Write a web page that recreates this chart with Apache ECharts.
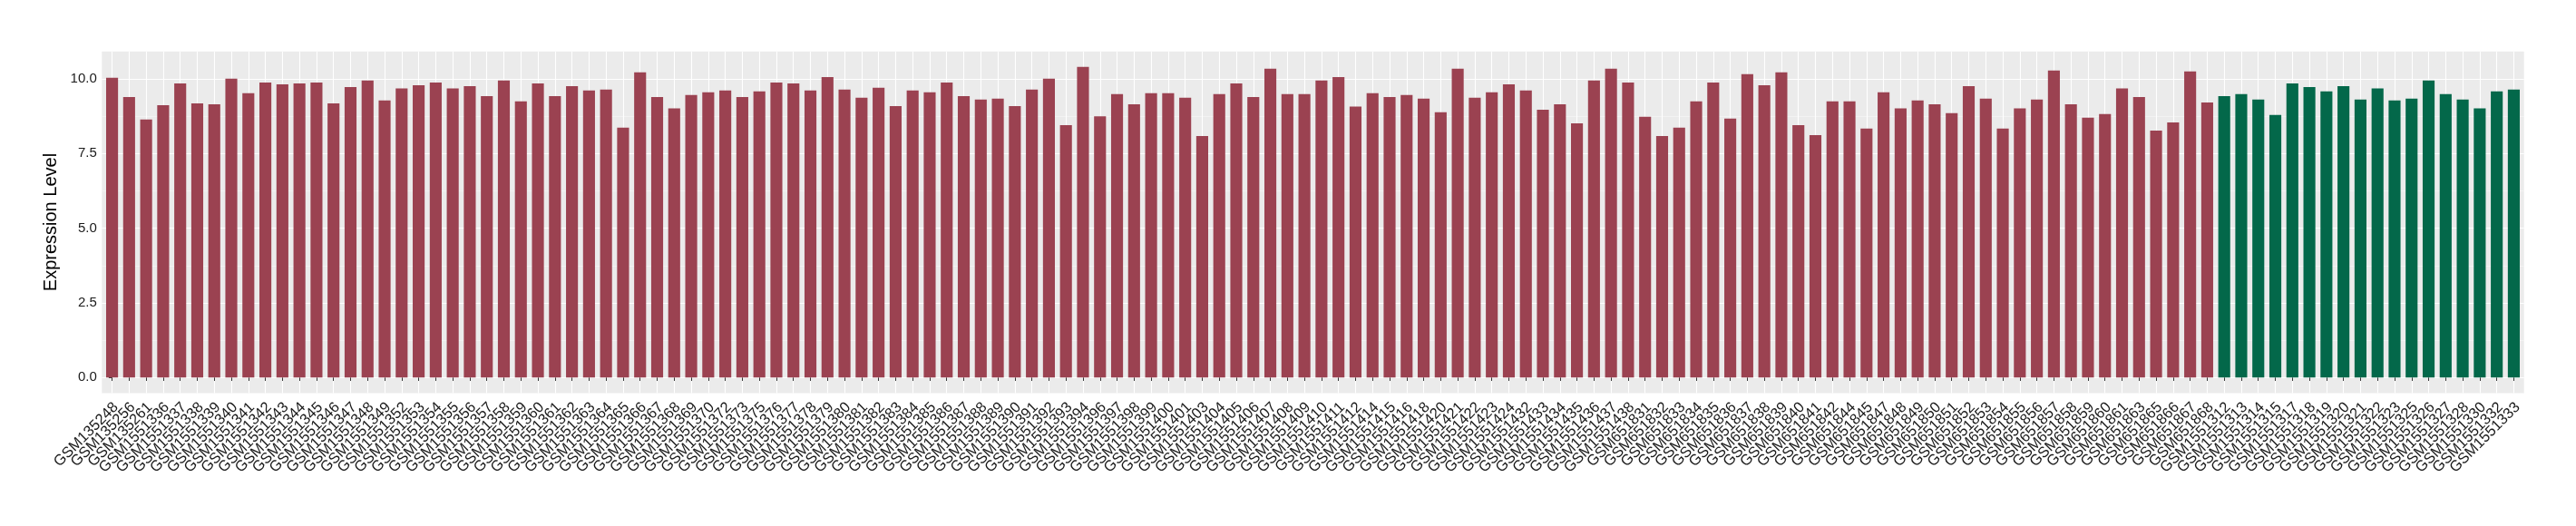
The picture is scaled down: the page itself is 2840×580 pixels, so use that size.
<!DOCTYPE html>
<html>
<head>
<meta charset="utf-8">
<script src="https://cdn.jsdelivr.net/npm/echarts@6.0.0/dist/echarts.min.js"></script>
<style>
  html, body { margin: 0; padding: 0; background: #fff; }
  #chart { width: 2840px; height: 580px; }
</style>
</head>
<body>
<div id="chart"></div>
<script>
// first group (red bars)
const groupASamples = [
  "GSM135248", "GSM135256", "GSM135261", "GSM1551336", "GSM1551337", "GSM1551338", "GSM1551339",
  "GSM1551340", "GSM1551341", "GSM1551342", "GSM1551343", "GSM1551344", "GSM1551345", "GSM1551346",
  "GSM1551347", "GSM1551348", "GSM1551349", "GSM1551352", "GSM1551353", "GSM1551354",
  "GSM1551355", "GSM1551356", "GSM1551357", "GSM1551358", "GSM1551359", "GSM1551360", "GSM1551361",
  "GSM1551362", "GSM1551363", "GSM1551364", "GSM1551365", "GSM1551366", "GSM1551367", "GSM1551368",
  "GSM1551369", "GSM1551370", "GSM1551372", "GSM1551373", "GSM1551375", "GSM1551376", "GSM1551377",
  "GSM1551378", "GSM1551379", "GSM1551380", "GSM1551381", "GSM1551382",
  "GSM1551383", "GSM1551384", "GSM1551385", "GSM1551386", "GSM1551387", "GSM1551388", "GSM1551389",
  "GSM1551390", "GSM1551391", "GSM1551392", "GSM1551393", "GSM1551394", "GSM1551396", "GSM1551397",
  "GSM1551398", "GSM1551399", "GSM1551400", "GSM1551401", "GSM1551403", "GSM1551404", "GSM1551405",
  "GSM1551406", "GSM1551407", "GSM1551408", "GSM1551409", "GSM1551410",
  "GSM1551411", "GSM1551412", "GSM1551414", "GSM1551415", "GSM1551416", "GSM1551418", "GSM1551420",
  "GSM1551421", "GSM1551422", "GSM1551423", "GSM1551424", "GSM1551432", "GSM1551433", "GSM1551434",
  "GSM1551435", "GSM1551436", "GSM1551437", "GSM1551438", "GSM651831", "GSM651832", "GSM651833",
  "GSM651834", "GSM651835", "GSM651836", "GSM651837",
  "GSM651838", "GSM651839", "GSM651840", "GSM651841", "GSM651842", "GSM651844", "GSM651845",
  "GSM651847", "GSM651848", "GSM651849", "GSM651850", "GSM651851", "GSM651852", "GSM651853",
  "GSM651854", "GSM651855", "GSM651856", "GSM651857", "GSM651858", "GSM651859", "GSM651860",
  "GSM651861", "GSM651863", "GSM651865", "GSM651866", "GSM651867", "GSM651868"
];
const groupAValues = [
  10.04, 9.39, 8.64, 9.12, 9.85, 9.18, 9.15, 10.01, 9.52, 9.88, 9.82, 9.85, 9.88, 9.18, 9.73, 9.95, 9.28, 9.68, 9.79, 9.88,
  9.68, 9.76, 9.42, 9.95, 9.25, 9.85, 9.42, 9.76, 9.61, 9.64, 8.37, 10.22, 9.39, 9.01, 9.46, 9.55, 9.61, 9.39, 9.58, 9.88,
  9.85, 9.61, 10.06, 9.64, 9.37, 9.70,
  9.09, 9.61, 9.55, 9.88, 9.42, 9.31, 9.34, 9.09, 9.64, 10.01, 8.45, 10.40, 8.75, 9.49, 9.15, 9.52, 9.52, 9.37, 8.09, 9.49,
  9.85, 9.39, 10.34, 9.49, 9.49, 9.95,
  10.06, 9.07, 9.52, 9.39, 9.46, 9.34, 8.88, 10.34, 9.37, 9.55, 9.82, 9.61, 8.97, 9.15, 8.51, 9.95, 10.34, 9.88, 8.73, 8.09,
  8.37, 9.25, 9.88, 8.67, 10.16,
  9.79, 10.22, 8.45, 8.12, 9.25, 9.25, 8.34, 9.55, 9.01, 9.28, 9.15, 8.85, 9.76, 9.34, 8.34, 9.01, 9.31, 10.28, 9.15, 8.70,
  8.82, 9.68, 9.39, 8.27, 8.54, 10.25, 9.21
];

// second group (green bars)
const groupBSamples = [
  "GSM1551312", "GSM1551313", "GSM1551314", "GSM1551315", "GSM1551317", "GSM1551318", "GSM1551319",
  "GSM1551320", "GSM1551321", "GSM1551322", "GSM1551323", "GSM1551325", "GSM1551326", "GSM1551327",
  "GSM1551328", "GSM1551330", "GSM1551332", "GSM1551333"
];
const groupBValues = [
  9.42, 9.49, 9.31, 8.79, 9.85, 9.73, 9.58, 9.76, 9.31, 9.68, 9.28, 9.34, 9.95, 9.49, 9.31, 9.01, 9.58, 9.64
];

const yMajorTicks = [0, 2.5, 5, 7.5, 10];
const yMinorTicks = [1.25, 3.75, 6.25, 8.75];

const FONT = "Liberation Sans";
const samples = groupASamples.concat(groupBSamples);
const positions = samples.map((_, i) => i);

// ggplot-like expansion: 5% on y, 0.6 on discrete x
const yMax = Math.max(...groupAValues, ...groupBValues);
const yPad = yMax * 0.05;
const xMin = -0.6;
const xMax = samples.length - 0.4;

// blank labels at both ends take the min/max overlap check,
// so no real sample name gets dropped
const labelPositions = [xMin + 0.05].concat(positions, [xMax - 0.05]);

const chart = echarts.init(document.getElementById("chart"));

const option = {
  animation: false,
  backgroundColor: "#ffffff",
  textStyle: { fontFamily: FONT },
  grid: {
    left: 112.3,
    right: 57.3,
    top: 56.7,
    bottom: 146.6,
    show: true,
    backgroundColor: "#EBEBEB",
    borderWidth: 0
  },
  xAxis: {
    type: "value",
    min: xMin,
    max: xMax,
    axisLine: { show: false },
    axisTick: {
      show: true,
      customValues: positions,
      length: 3.7,
      lineStyle: { color: "#333333", width: 1 }
    },
    axisLabel: {
      customValues: labelPositions,
      rotate: 45,
      margin: 9,
      verticalAlign: "top",
      lineHeight: 12,
      fontSize: 16.5,
      color: "#1a1a1a",
      fontFamily: FONT,
      formatter: (v) => (Number.isInteger(v) ? samples[v] : " ")
    },
    splitLine: { show: true, lineStyle: { color: "#ffffff", width: 1.1 } }
  },
  yAxis: [
    {
      type: "value",
      min: -yPad,
      max: yMax + yPad,
      name: "Expression Level",
      nameLocation: "middle",
      nameGap: 40,
      nameTextStyle: { fontSize: 20, color: "#000000", fontFamily: FONT },
      axisLine: { show: false },
      axisTick: {
        show: true,
        customValues: yMajorTicks,
        length: 3.7,
        lineStyle: { color: "#333333", width: 1 }
      },
      axisLabel: {
        customValues: yMajorTicks,
        margin: 5.5,
        fontSize: 15,
        color: "#1a1a1a",
        fontFamily: FONT,
        formatter: (v) => v.toFixed(1)
      },
      splitLine: { show: true, lineStyle: { color: "#ffffff", width: 1.1 } }
    },
    {
      // minor grid lines only
      type: "value",
      min: -yPad,
      max: yMax + yPad,
      position: "left",
      axisLine: { show: false },
      axisTick: { show: false, customValues: yMinorTicks },
      axisLabel: { show: false, customValues: yMinorTicks },
      splitLine: { show: true, lineStyle: { color: "#F7F7F7", width: 0.7 } }
    }
  ],
  series: [
    {
      type: "bar",
      data: groupAValues.map((v, i) => [i, v]),
      barWidth: 13.14,
      barGap: "-100%",
      itemStyle: { color: "#9B4251" }
    },
    {
      type: "bar",
      data: groupBValues.map((v, i) => [groupAValues.length + i, v]),
      barWidth: 13.14,
      barGap: "-100%",
      itemStyle: { color: "#03684A" }
    }
  ]
};

chart.setOption(option);
window.addEventListener("resize", () => chart.resize());
</script>
</body>
</html>
